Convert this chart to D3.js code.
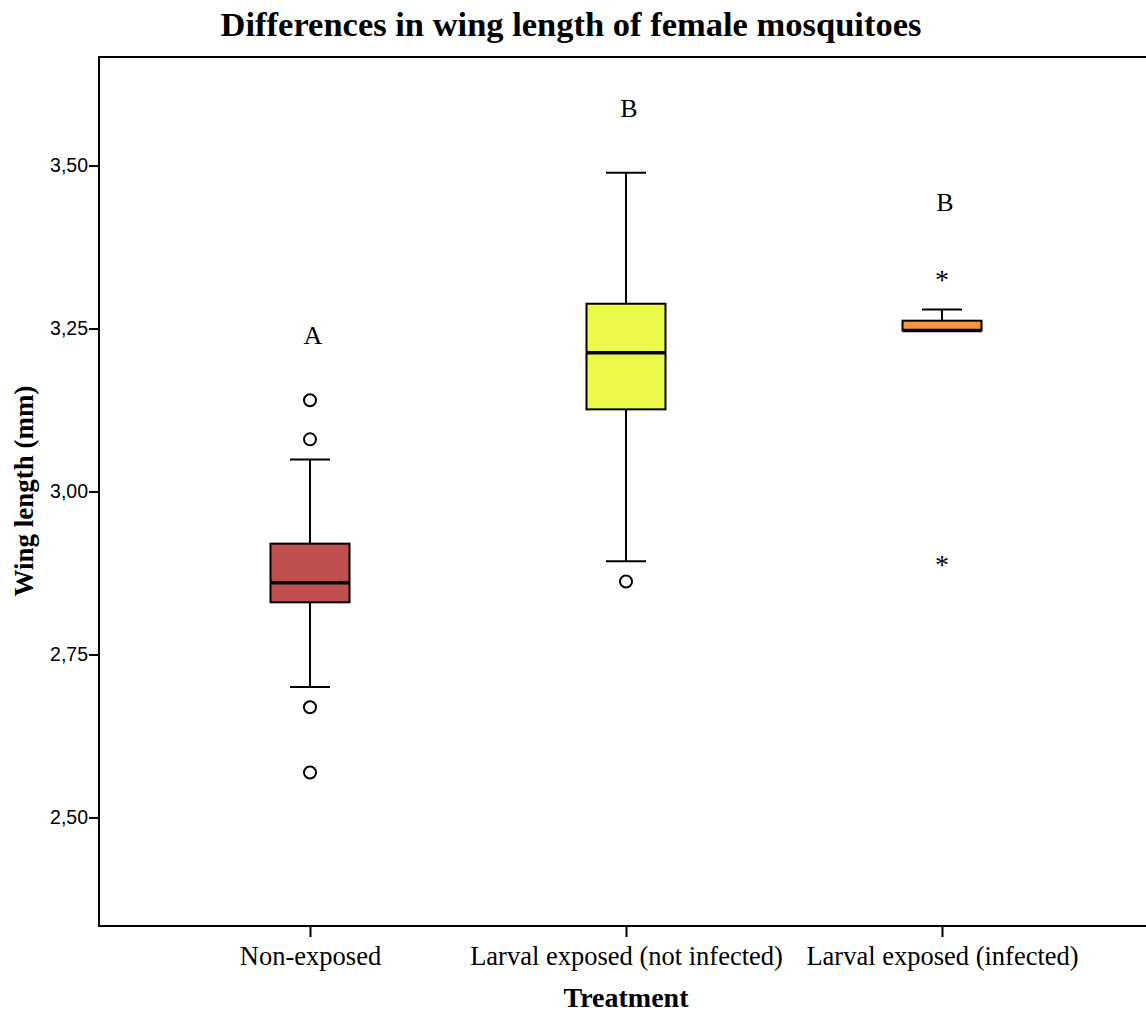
<!DOCTYPE html>
<html><head><meta charset="utf-8">
<script src="https://cdn.jsdelivr.net/npm/d3@7"></script>
<style>body{margin:0;background:#fff}svg{display:block}</style>
</head><body>
<svg id="c" width="1146" height="1015"></svg>
<script>
const categories = ["Non-exposed", "Larval exposed (not infected)", "Larval exposed (infected)"];
const whiskerLow = [2.70, 2.893, 3.247];
const q1 = [2.830, 3.126, 3.247];
const median = [2.860, 3.213, 3.247];
const q3 = [2.920, 3.288, 3.262];
const whiskerHigh = [3.049, 3.489, 3.279];
const outliers = [[3.14, 3.08, 2.669, 2.569], [2.862], []];
const extremes = [[], [], [3.328, 2.890]];
const letters = ["A", "B", "B"];
const letterValues = [3.240, 3.589, 3.444];
const colors = ["#c0504d", "#ebf94a", "#f8963f"];
const yTicks = [2.50, 2.75, 3.00, 3.25, 3.50];

const svg = d3.select("#c");
const L = 99, T = 57, R = 1150, B = 926;
const serif = "Liberation Serif, Times New Roman, serif";
const y = d3.scaleLinear().domain([2.3335, 3.6665]).range([B, T]);
const x = d3.scalePoint().domain(categories).range([310, 942]);
const boxW = 79, capW = 40;

// frame
svg.append("rect").attr("x", L).attr("y", T).attr("width", R - L).attr("height", B - T)
  .attr("fill", "none").attr("stroke", "#000").attr("stroke-width", 2);

// y axis
const yAxis = svg.append("g").attr("transform", `translate(${L},0)`)
  .call(d3.axisLeft(y).tickValues(yTicks).tickSize(10).tickFormat(d => d3.format(".2f")(d).replace(".", ",")));
yAxis.select(".domain").remove();
yAxis.selectAll("line").attr("stroke", "#000").attr("stroke-width", 2);
yAxis.selectAll("text").attr("font-family", "Liberation Sans, Arial, sans-serif").attr("font-size", 19.5).attr("fill", "#000").attr("x", -11);

// x axis
const xAxis = svg.append("g").attr("transform", `translate(0,${B})`)
  .call(d3.axisBottom(x).tickSize(11).tickPadding(9));
xAxis.select(".domain").remove();
xAxis.selectAll("line").attr("stroke", "#000").attr("stroke-width", 2);
xAxis.selectAll("text").attr("font-family", serif).attr("font-size", 26.5).attr("fill", "#000");

// titles
svg.append("text").attr("x", 571).attr("y", 36).attr("text-anchor", "middle")
  .attr("font-family", serif).attr("font-weight", "bold").attr("font-size", 34.5)
  .text("Differences in wing length of female mosquitoes");
svg.append("text").attr("x", 626).attr("y", 1007).attr("text-anchor", "middle")
  .attr("font-family", serif).attr("font-weight", "bold").attr("font-size", 28)
  .text("Treatment");
svg.append("text").attr("transform", "translate(33,491) rotate(-90)").attr("text-anchor", "middle")
  .attr("font-family", serif).attr("font-weight", "bold").attr("font-size", 27)
  .text("Wing length (mm)");

categories.forEach((c, i) => {
  const cx = x(c);
  const g = svg.append("g");
  g.append("line").attr("x1", cx).attr("x2", cx).attr("y1", y(whiskerHigh[i])).attr("y2", y(q3[i])).attr("stroke", "#000").attr("stroke-width", 2);
  g.append("line").attr("x1", cx).attr("x2", cx).attr("y1", y(q1[i])).attr("y2", y(whiskerLow[i])).attr("stroke", "#000").attr("stroke-width", 2);
  g.append("line").attr("x1", cx - capW / 2).attr("x2", cx + capW / 2).attr("y1", y(whiskerHigh[i])).attr("y2", y(whiskerHigh[i])).attr("stroke", "#000").attr("stroke-width", 2);
  if (whiskerLow[i] < q1[i])
    g.append("line").attr("x1", cx - capW / 2).attr("x2", cx + capW / 2).attr("y1", y(whiskerLow[i])).attr("y2", y(whiskerLow[i])).attr("stroke", "#000").attr("stroke-width", 2);
  g.append("rect").attr("x", cx - boxW / 2).attr("y", y(q3[i])).attr("width", boxW).attr("height", y(q1[i]) - y(q3[i]))
    .attr("fill", colors[i]).attr("stroke", "#000").attr("stroke-width", 2);
  g.append("line").attr("x1", cx - boxW / 2).attr("x2", cx + boxW / 2).attr("y1", y(median[i])).attr("y2", y(median[i])).attr("stroke", "#000").attr("stroke-width", 3.5);
  outliers[i].forEach(v => {
    g.append("circle").attr("cx", cx).attr("cy", y(v)).attr("r", 6).attr("fill", "#fff").attr("stroke", "#000").attr("stroke-width", 2);
  });
  extremes[i].forEach(v => {
    g.append("text").attr("x", cx).attr("y", y(v) + 11).attr("text-anchor", "middle")
      .attr("font-family", serif).attr("font-size", 28).text("*");
  });
  svg.append("text").attr("x", cx + 3).attr("y", y(letterValues[i])).attr("dy", "0.35em").attr("text-anchor", "middle")
    .attr("font-family", serif).attr("font-size", 26).text(letters[i]);
});
</script>
</body></html>
